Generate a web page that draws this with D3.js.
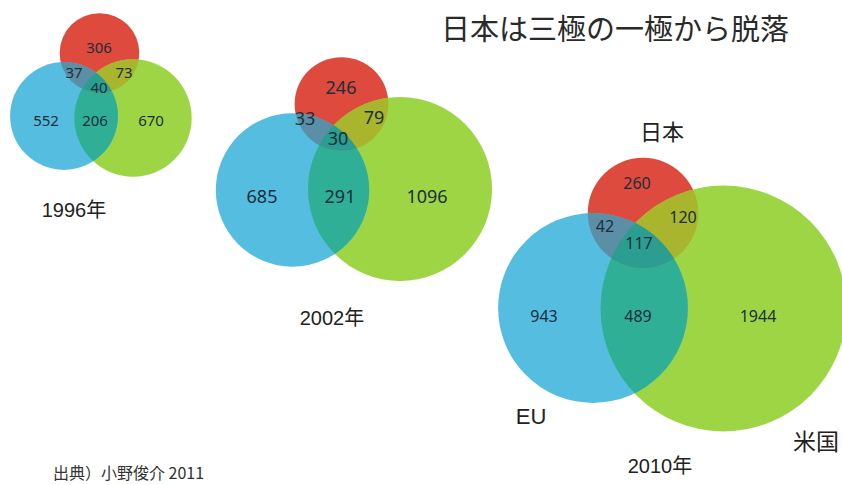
<!DOCTYPE html>
<html><head><meta charset="utf-8">
<script src="https://cdn.jsdelivr.net/npm/d3@7"></script>
<style>
html,body{margin:0;padding:0;background:#fff;}
svg{display:block;}
</style></head>
<body>
<svg id="chart" width="842" height="485"></svg>
<script>
// ---- data ----
const years = ["1996年", "2002年", "2010年"];
const regions = ["日本のみ", "日本∩EU", "日本∩米国", "三極共通", "EUのみ", "EU∩米国", "米国のみ"];
const values1996 = [306, 37, 73, 40, 552, 206, 670];
const values2002 = [246, 33, 79, 30, 685, 291, 1096];
const values2010 = [260, 42, 120, 117, 943, 489, 1944];
const setNames = ["日本", "EU", "米国"];
const title = "日本は三極の一極から脱落";
const source = "出典）小野俊介 2011";

// ---- layout (positions / sizes / styles) ----
const layout = [
  { k: 3.48, font: 15,
    centers: { J: [99.5, 53], E: [64, 116], U: [133, 118] },
    labels: [[99,47],[74,72],[124,72],[99,87],[46,120],[95,120],[151,120]],
    year: [74, 210] },
  { k: 5.66, font: 18,
    centers: { J: [341.5, 104], E: [292.5, 190], U: [400, 189] },
    labels: [[341,87],[305,118],[374,117],[338,138],[262,196],[340,196],[427,196]],
    year: [332, 318] },
  { k: 5.66, font: 16,
    centers: { J: [643, 213], E: [593, 308], U: [723.5, 308.5] },
    labels: [[637,183],[605,226],[683,217],[639,243],[544,316],[638,316],[758,316]],
    year: [660, 466] }
];
const colors = {
  J: "#de4a3d", E: "#55bde0", U: "#9dd545",
  JE: "#5b8fa6", JU: "#a9b52d", EU: "#2fb096", JEU: "#2a9e90"
};

const allValues = [values1996, values2002, values2010];
const svg = d3.select("#chart");
const defs = svg.append("defs");

function totals(v) {
  return {
    J: v[0] + v[1] + v[2] + v[3],
    E: v[4] + v[1] + v[5] + v[3],
    U: v[6] + v[2] + v[5] + v[3]
  };
}

allValues.forEach((vals, i) => {
  const L = layout[i];
  const t = totals(vals);
  const maxT = d3.max(Object.values(t));
  const r = d3.scaleSqrt().domain([0, maxT]).range([0, Math.sqrt(maxT * L.k)]);
  const g = svg.append("g");
  const C = {};
  ["J","E","U"].forEach(s => {
    C[s] = { x: L.centers[s][0], y: L.centers[s][1], r: r(t[s]) };
    defs.append("clipPath").attr("id", `c${i}${s}`)
      .append("circle").attr("cx", C[s].x).attr("cy", C[s].y).attr("r", C[s].r);
  });
  const circ = (sel, s, fill) => sel.append("circle")
      .attr("cx", C[s].x).attr("cy", C[s].y).attr("r", C[s].r).attr("fill", fill);
  circ(g, "J", colors.J);
  circ(g, "U", colors.U);
  circ(g, "E", colors.E);
  circ(g.append("g").attr("clip-path", `url(#c${i}U)`), "E", colors.EU);
  circ(g.append("g").attr("clip-path", `url(#c${i}U)`), "J", colors.JU);
  circ(g.append("g").attr("clip-path", `url(#c${i}E)`), "J", colors.JE);
  circ(g.append("g").attr("clip-path", `url(#c${i}U)`).append("g").attr("clip-path", `url(#c${i}E)`), "J", colors.JEU);

  g.selectAll("text.num").data(vals).enter().append("text")
    .attr("class", "num")
    .attr("x", (d, j) => L.labels[j][0])
    .attr("y", (d, j) => L.labels[j][1])
    .attr("text-anchor", "middle").attr("dominant-baseline", "central")
    .attr("font-family", "'Noto Sans', 'Open Sans', sans-serif")
    .attr("font-size", L.font).attr("fill", "#1b2e3c")
    .text(d => d);

  svg.append("text").attr("x", L.year[0]).attr("y", L.year[1])
    .attr("text-anchor", "middle").attr("dominant-baseline", "central")
    .attr("font-family", "'Liberation Sans', 'Noto Sans CJK JP', sans-serif").attr("font-size", 20)
    .attr("fill", "#222").text(years[i]);
});

// set names (2010 diagram)
const nameLayout = [[662, 132, 22], [531, 416, 22], [816, 442, 23]];
svg.selectAll("text.setname").data(setNames).enter().append("text")
  .attr("class", "setname")
  .attr("x", (d, j) => nameLayout[j][0]).attr("y", (d, j) => nameLayout[j][1])
  .attr("font-size", (d, j) => nameLayout[j][2])
  .attr("text-anchor", "middle").attr("dominant-baseline", "central")
  .attr("font-family", "'Liberation Sans', 'Noto Sans CJK JP', sans-serif").attr("fill", "#222")
  .text(d => d);

svg.append("text").attr("x", 615).attr("y", 27)
  .attr("text-anchor", "middle").attr("dominant-baseline", "central")
  .attr("font-family", "'Noto Sans CJK JP', sans-serif").attr("font-size", 29)
  .attr("fill", "#2a2a2a").text(title);

svg.append("text").attr("x", 53).attr("y", 472)
  .attr("dominant-baseline", "central")
  .attr("font-family", "'Noto Sans CJK JP', sans-serif").attr("font-size", 16)
  .attr("fill", "#333").text(source);
</script>
</body></html>
